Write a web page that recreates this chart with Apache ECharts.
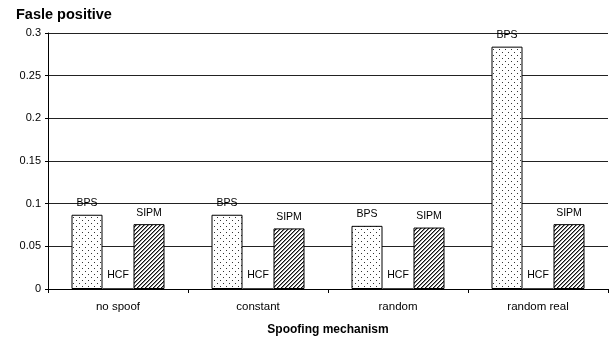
<!DOCTYPE html>
<html>
<head>
<meta charset="utf-8">
<script src="https://cdn.jsdelivr.net/npm/echarts@6/dist/echarts.min.js"></script>
<style>
  html, body { margin: 0; padding: 0; background: #fff; }
  #chart { width: 612px; height: 339px; }
</style>
</head>
<body>
<div id="chart"></div>
<script>
// Spoofing mechanisms on the x axis
const categories = ['no spoof', 'constant', 'random', 'random real'];
// False positive rate per scheme
const bpsValues = [0.087, 0.087, 0.074, 0.284];
const hcfValues = [0, 0, 0, 0];
const sipmValues = [0.076, 0.071, 0.072, 0.076];
const seriesNames = ['BPS', 'HCF', 'SIPM'];

// Sparse staggered dot fill
function dotPattern() {
  const c = document.createElement('canvas');
  c.width = 6; c.height = 6;
  const g = c.getContext('2d');
  g.fillStyle = '#fff';
  g.fillRect(0, 0, 6, 6);
  g.fillStyle = '#333';
  g.fillRect(1, 1, 1, 1);
  g.fillRect(4, 4, 1, 1);
  return c;
}

// Forward diagonal hatching
function hatchPattern() {
  const n = 4;
  const c = document.createElement('canvas');
  c.width = n; c.height = n;
  const g = c.getContext('2d');
  g.fillStyle = '#fff';
  g.fillRect(0, 0, n, n);
  for (let x = 0; x < n; x++) {
    for (let y = 0; y < n; y++) {
      const k = (x + y) % n;
      if (k === 0) { g.fillStyle = '#111'; g.fillRect(x, y, 1, 1); }
      else if (k === 1) { g.fillStyle = '#888'; g.fillRect(x, y, 1, 1); }
    }
  }
  return c;
}

const font = 'Liberation Sans, Arial, sans-serif';

function barSeries(name, data, fill, distance) {
  return {
    name: name,
    type: 'bar',
    data: data,
    barWidth: 31,
    barGap: '0%',
    itemStyle: {
      color: fill,
      borderColor: '#000',
      borderWidth: 1
    },
    label: {
      show: true,
      position: 'top',
      distance: distance,
      formatter: name,
      fontFamily: font,
      fontSize: 10.5,
      color: '#000'
    },
    silent: true
  };
}

const chart = echarts.init(document.getElementById('chart'), null, { renderer: 'canvas' });
chart.setOption({
  animation: false,
  backgroundColor: '#fff',
  title: {
    text: 'Fasle positive',
    left: 16,
    top: 7,
    padding: 0,
    textStyle: { fontFamily: font, fontSize: 14.5, fontWeight: 'bold', color: '#000' }
  },
  grid: { left: 48, right: 4, top: 33, bottom: 50, outerBoundsMode: 'none', containLabel: false },
  xAxis: {
    type: 'category',
    data: categories,
    name: 'Spoofing mechanism',
    nameLocation: 'middle',
    nameGap: 35,
    nameTextStyle: { fontFamily: font, fontSize: 12, fontWeight: 'bold', color: '#000' },
    axisLine: { lineStyle: { color: '#000', width: 1 } },
    axisTick: { show: true, length: 4, lineStyle: { color: '#000' } },
    axisLabel: { fontFamily: font, fontSize: 11.5, color: '#000', margin: 12 },
    splitLine: { show: false }
  },
  yAxis: {
    type: 'value',
    min: 0,
    max: 0.3,
    interval: 0.05,
    axisLine: { show: true, lineStyle: { color: '#000', width: 1 } },
    axisTick: { show: true, length: 3, lineStyle: { color: '#000' } },
    axisLabel: { fontFamily: font, fontSize: 11, color: '#000', margin: 7 },
    splitLine: { show: true, lineStyle: { color: '#222', width: 1 } }
  },
  series: [
    barSeries(seriesNames[0], bpsValues, { image: dotPattern(), repeat: 'repeat' }, 6),
    barSeries(seriesNames[1], hcfValues, '#fff', 8),
    barSeries(seriesNames[2], sipmValues, { image: hatchPattern(), repeat: 'repeat' }, 6)
  ]
});
</script>
</body>
</html>
